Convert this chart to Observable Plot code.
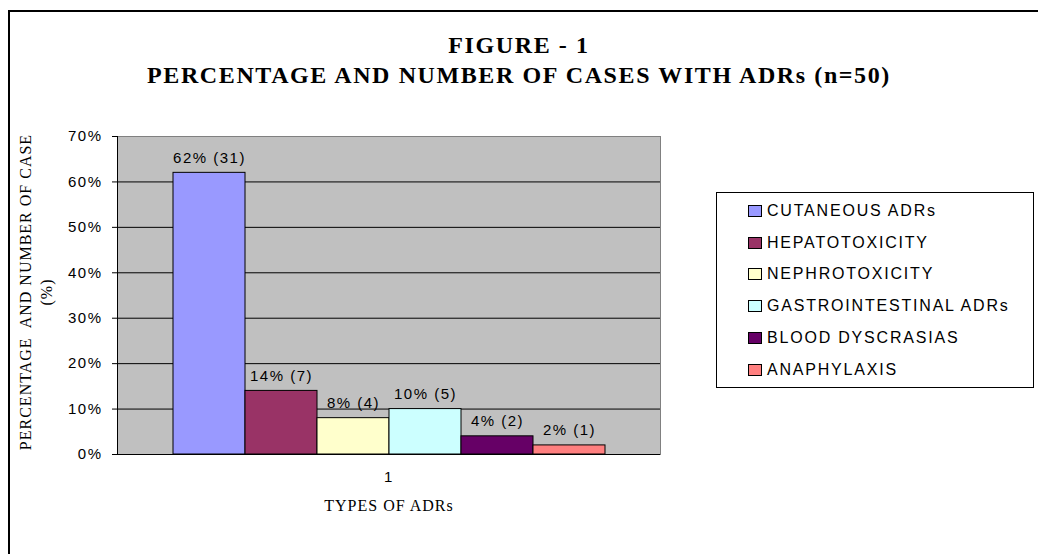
<!DOCTYPE html>
<html><head><meta charset="utf-8">
<script src="https://cdn.jsdelivr.net/npm/d3@7"></script>
<script src="https://cdn.jsdelivr.net/npm/@observablehq/plot@0.6"></script>
<style>
html,body{margin:0;padding:0;background:#fff}
body{width:1038px;height:554px;overflow:hidden;position:relative;font-family:"Liberation Sans",Arial,sans-serif;color:#000}
#border{position:absolute;left:8px;top:10px;width:1200px;height:700px;border:2px solid #000;box-sizing:border-box}
#chart{position:absolute;left:0;top:0}
.title{position:absolute;left:0;width:1038px;text-align:center;font-family:"Liberation Serif","Times New Roman",serif;font-weight:bold;font-size:24px;letter-spacing:1.6px;line-height:26px;white-space:nowrap;transform:translateY(-50%)}
#ylab{position:absolute;left:36px;top:292px;transform:translate(-50%,-50%) rotate(-90deg);font-family:"Liberation Serif","Times New Roman",serif;font-size:16px;letter-spacing:1px;line-height:21px;text-align:center;white-space:pre}
#xlab{position:absolute;left:389px;top:506px;transform:translate(-50%,-50%);font-family:"Liberation Serif","Times New Roman",serif;font-size:16px;letter-spacing:1px;white-space:nowrap}
#legend{position:absolute;left:716px;top:192px;width:318px;height:196px;border:1px solid #000;box-sizing:border-box;background:#fff}
.row{position:absolute;left:31px;height:18px;display:flex;align-items:center;font-size:16px;letter-spacing:1.8px;white-space:nowrap}
.sw{width:14px;height:12px;border:1px solid #000;box-sizing:border-box;margin-right:5px}
</style>
</head><body>
<div id="border"></div>
<div id="chart"></div>
<div class="title" style="top:45px">FIGURE - 1</div>
<div class="title" style="top:75px">PERCENTAGE AND NUMBER OF CASES WITH ADRs (n=50)</div>
<div id="ylab"></div>
<div id="xlab"></div>
<div id="legend"></div>
<script>
const categories = ["CUTANEOUS ADRs","HEPATOTOXICITY","NEPHROTOXICITY","GASTROINTESTINAL ADRs","BLOOD DYSCRASIAS","ANAPHYLAXIS"];
const percents = [62,14,8,10,4,2];
const counts = [31,7,4,5,2,1];
const colors = ["#9999FF","#993366","#FFFFCC","#CCFFFF","#660066","#FF8080"];
const groupLabel = "1";
const yTicks = [0,10,20,30,40,50,60,70];
const yTitle = "PERCENTAGE  AND NUMBER OF CASE\n(%)";
const xTitle = "TYPES OF ADRs";

const data = categories.map((c,i)=>({group:groupLabel, category:c, pct:percents[i], n:counts[i]}));

const chart = Plot.plot({
  width:1038, height:554,
  marginLeft:117, marginRight:378, marginTop:136, marginBottom:100,
  style:{fontFamily:"'Liberation Sans', Arial, sans-serif", fontSize:"15px", color:"#000", background:"transparent", overflow:"visible", letterSpacing:"1.5px"},
  fx:{domain:[groupLabel], padding:0, axis:null},
  x:{domain:categories, paddingInner:0, paddingOuter:0.75, axis:null},
  y:{domain:[0,70], axis:null},
  color:{domain:categories, range:colors},
  marks:[
    Plot.frame({fill:"#c0c0c0", stroke:"#808080"}),
    Plot.gridY(yTicks.filter(v=>v>0&&v<70), {stroke:"#000", strokeOpacity:1}),
    Plot.barY(data,{fx:"group", x:"category", y:"pct", fill:"category", stroke:"#000", strokeWidth:1}),
    Plot.text(data,{fx:"group", x:"category", y:"pct", text:d=>`${d.pct}% (${d.n})`, dy:-15, lineAnchor:"middle", fontSize:15, fill:"#000"}),
    Plot.ruleY([0],{stroke:"#000"}),
    Plot.axisY(yTicks,{tickFormat:d=>d+"%", tickSize:5, tickPadding:10, label:null, fontSize:15, stroke:"#000"}),
    Plot.axisFx({anchor:"bottom", tickSize:0, tickPadding:17, label:null, fontSize:15}),
    Plot.frame({anchor:"left", stroke:"#000"}),
    Plot.frame({anchor:"right", stroke:"#808080"})
  ]
});
document.getElementById("chart").appendChild(chart);
document.getElementById("ylab").textContent = yTitle;
document.getElementById("xlab").textContent = xTitle;

const legend = document.getElementById("legend");
categories.forEach((c,i)=>{
  const row = document.createElement("div");
  row.className = "row";
  row.style.top = (18 + i*31.7 - 9) + "px";
  const sw = document.createElement("div");
  sw.className = "sw";
  sw.style.background = colors[i];
  const t = document.createElement("span");
  t.textContent = c;
  row.appendChild(sw); row.appendChild(t);
  legend.appendChild(row);
});
</script>
</body></html>
